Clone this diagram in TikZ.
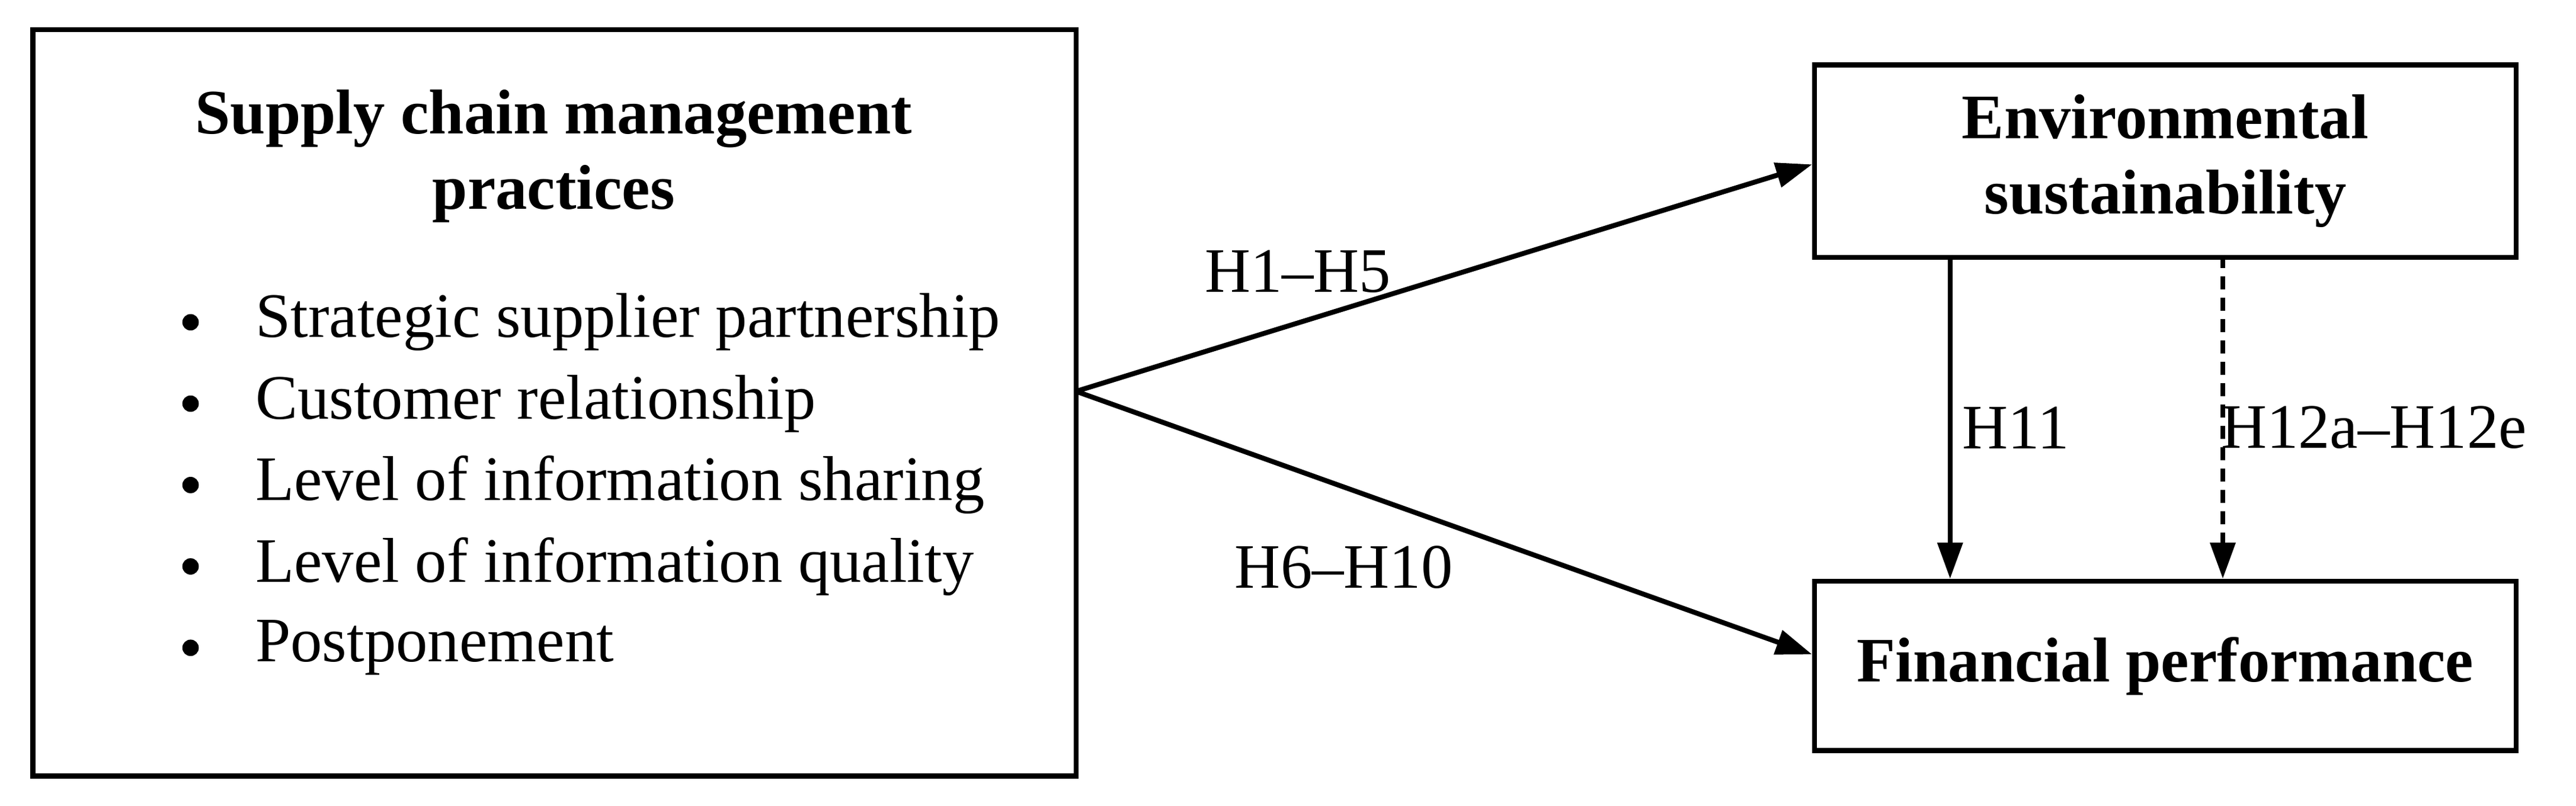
\documentclass[tikz,border=0pt]{standalone}
\usepackage{fontspec}
\setmainfont{Liberation Serif}
\usetikzlibrary{arrows.meta}
\begin{document}
\begin{tikzpicture}[x=1pt,y=-1pt,
  box/.style={draw,line width=3pt},
  conn/.style={line width=3pt,-{Triangle[length=22pt,width=15pt]}},
  lbl/.style={font=\fontsize{38.5}{44}\selectfont},
  title/.style={font=\fontsize{38.5}{46}\selectfont\bfseries,align=center}]
\useasboundingbox (0,0) rectangle (1568,490);
\draw[box] (20,18) rectangle (655,472);
\node[title] (sc) at (337,95) {Supply chain management\\practices};
\foreach \i/\t in {0/Strategic supplier partnership,1/Customer relationship,2/Level of information sharing,3/Level of information quality,4/Postponement}{
  \fill (116,{196+49.5*\i}) circle (5pt);
  \node[lbl,anchor=west] (item\i) at (152,{196+49.5*\i}) {\t};
}
\coordinate (src) at (655,238);
\node[box,minimum width=427pt,minimum height=117pt,anchor=north west,title] (env) at (1103,38) {Environmental\\sustainability};
\node[box,minimum width=427pt,minimum height=103pt,anchor=north west,title] (fin) at (1103,352) {Financial performance};
\draw[conn] (src) -- (env.west |- 0,100);
\draw[conn] (src) -- (fin.west |- 0,398);
\draw[conn] (1187,155) -- (1187,352);
\draw[conn,dashed,dash pattern=on 8pt off 5pt] (1353,155) -- (1353,352);
\node[lbl] (h1) at (790,165) {H1–H5};
\node[lbl] (h6) at (818,345) {H6–H10};
\node[lbl] (h11) at (1227,260) {H11};
\node[lbl] (h12) at (1445,260) {H12a–H12e};
\end{tikzpicture}
\end{document}
